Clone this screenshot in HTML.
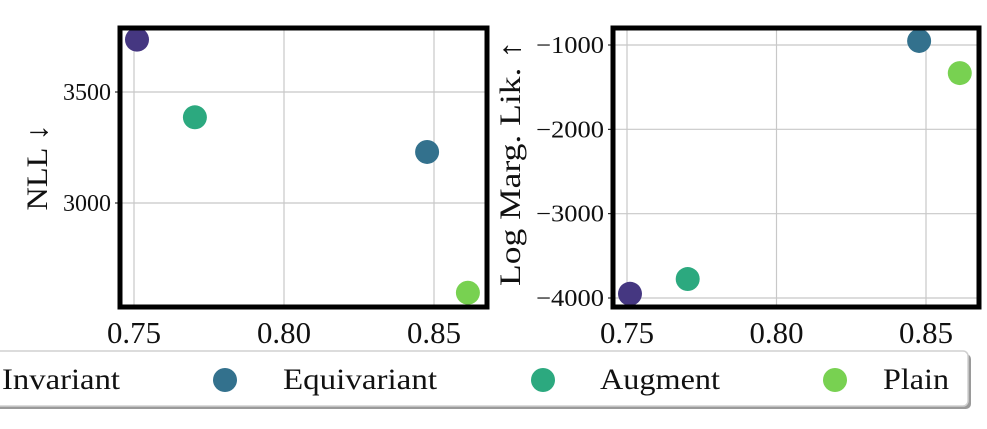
<!DOCTYPE html>
<html><head><meta charset="utf-8"><style>
body{margin:0;background:#fff;width:987px;height:424px;overflow:hidden}
svg{font-family:"Liberation Serif","DejaVu Serif",serif}
</style></head><body>
<svg id="c" width="987" height="424" xmlns="http://www.w3.org/2000/svg"></svg>
<script>
const series = ["Invariant","Equivariant","Augment","Plain"];
const colors = ["#453781","#33718d","#2ca97f","#78d151"];
const accuracy = [0.751, 0.8477, 0.7703, 0.8613];
const nll = [3736, 3230, 3386, 2596];
const logMargLik = [-3950, -952, -3775, -1333];
const xTicks = [0.75, 0.80, 0.85];
const xTickLabels = ["0.75","0.80","0.85"];
const nllTicks = [3000, 3500];
const nllTickLabels = ["3000","3500"];
const lmlTicks = [-4000,-3000,-2000,-1000];
const lmlTickLabels = ["\u22124000","\u22123000","\u22122000","\u22121000"];

const NS="http://www.w3.org/2000/svg";
const svg=document.getElementById('c');
function mk(tag,attrs,parent){const e=document.createElementNS(NS,tag);for(const k in attrs)e.setAttribute(k,attrs[k]);(parent||svg).appendChild(e);return e;}

function panel(name,box,xs,ys,yvals,yt,ytl,ylabel,ylx,ylen,ytw){
  const g=mk('g',{});
  
  
  xTicks.forEach((t,i)=>{
    const x=xs(t);
    const l=mk('line',{x1:x,x2:x,y1:box.y0,y2:box.y1,stroke:'#c8c8c8','stroke-width':1.2},g);
    
    
    const tx=mk('text',{x:x,y:box.y1+36,'font-size':31,'text-anchor':'middle',fill:'#111',textLength:54,lengthAdjust:'spacingAndGlyphs'},g);
    
    
    tx.textContent=xTickLabels[i];
  });
  yt.forEach((t,i)=>{
    const y=ys(t);
    const l=mk('line',{x1:box.x0,x2:box.x1,y1:y,y2:y,stroke:'#c8c8c8','stroke-width':1.2},g);
    
    
    mk('line',{x1:box.x0-5,x2:box.x0,y1:y,y2:y,stroke:'#000','stroke-width':1},g);
    const tx=mk('text',{x:box.x0-9,y:y+8,'font-size':24,'text-anchor':'end',fill:'#111',textLength:ytw,lengthAdjust:'spacingAndGlyphs'},g);
    
    
    tx.textContent=ytl[i];
  });
  series.forEach((s,i)=>{
    const c=mk('circle',{cx:xs(accuracy[i]),cy:ys(yvals[i]),r:12,fill:colors[i]},g);
    
    
  });
  const r=mk('rect',{x:box.x0,y:box.y0,width:box.x1-box.x0,height:box.y1-box.y0,fill:'none',stroke:'#000','stroke-width':5},g);
  
  
  const cy=(box.y0+box.y1)/2+ (name==='nll-panel'?0:-4);
  const yl=mk('text',{x:ylx,y:cy,'font-size':30,'text-anchor':'middle',fill:'#111',transform:`rotate(-90 ${ylx} ${cy})`,textLength:ylen,lengthAdjust:'spacingAndGlyphs'},g);
  
  
  yl.textContent=ylabel;
}
const lx=v=>134+(v-0.75)*3000;
const ly=v=>203-(v-3000)*(111/500);
panel('nll-panel',{x0:120,x1:487,y0:28,y1:307},lx,ly,nll,nllTicks,nllTickLabels,'NLL \u2193',47,86,48);
const rx=v=>627+(v-0.75)*2990;
const ry=v=>45+(-1000-v)*(253/3000);
panel('log-marg-lik-panel',{x0:613,x1:979,y0:28,y1:307},rx,ry,logMargLik,lmlTicks,lmlTickLabels,'Log Marg. Lik. \u2191',520,245,68);

const lg=mk('g',{});


mk('rect',{x:-6,y:354,width:977,height:55,rx:5,fill:'#9a9a9a'},lg);
mk('rect',{x:-8,y:351,width:976,height:55,rx:5,fill:'#fff',stroke:'#d0d0d0','stroke-width':1.5},lg);
const mx=[-90,225,543,835], tx=[2,283,600,883], tw=[118,154,120,66];
series.forEach((s,i)=>{
  const c=mk('circle',{cx:mx[i],cy:380,r:12,fill:colors[i]},lg);
  
  
  const t=mk('text',{x:tx[i],y:389,'font-size':30,fill:'#111',textLength:tw[i],lengthAdjust:'spacingAndGlyphs'},lg);
  
  
  t.textContent=s;
});
</script>
</body></html>
